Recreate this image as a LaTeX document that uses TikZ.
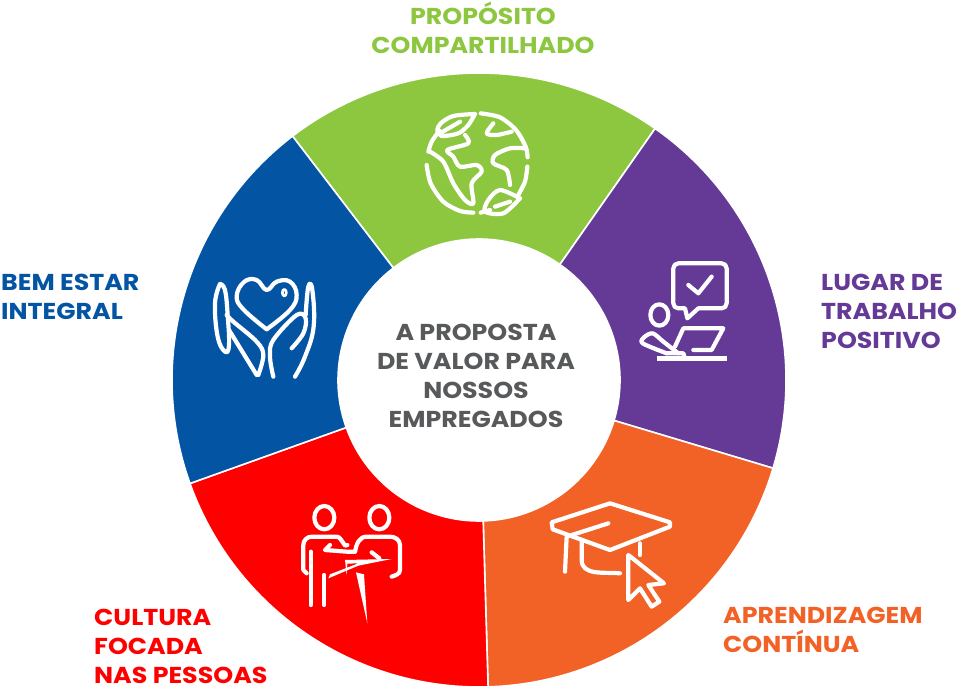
\documentclass[tikz,border=0pt]{standalone}
\usepackage{fontspec}
\setmainfont{Poppins}[FakeStretch=1.1]
\definecolor{greenpart}{HTML}{8DC63F}
\definecolor{purplepart}{HTML}{643A96}
\definecolor{orangepart}{HTML}{F26125}
\definecolor{redpart}{HTML}{FF0000}
\definecolor{bluepart}{HTML}{0454A4}
\definecolor{greytext}{HTML}{58595B}
\tikzset{
  wedge/.style={draw=white, line width=1.6pt},
  icon/.style={draw=white, line width=4.2pt, line cap=round, line join=round},
  label/.style={font=\fontsize{23}{29}\bfseries\selectfont, inner sep=0pt, align=left, anchor=west},
  middle/.style={font=\fontsize{23}{29}\bfseries\selectfont, inner sep=0pt, align=center},
}
\begin{document}
\begin{tikzpicture}[x=1pt,y=-1pt]
\useasboundingbox (0,0) rectangle (960,700);
\begin{scope}[shift={(479,380)}]
\filldraw[wedge, fill=greenpart] (55:307pt) arc[start angle=55, end angle=127.4, radius=307pt] -- (127.4:141pt) arc[start angle=127.4, end angle=55, radius=141pt] -- cycle;
\filldraw[wedge, fill=purplepart] (-16.7:307pt) arc[start angle=-16.7, end angle=55, radius=307pt] -- (55:141pt) arc[start angle=55, end angle=-16.7, radius=141pt] -- cycle;
\filldraw[wedge, fill=orangepart] (-88.3:307pt) arc[start angle=-88.3, end angle=-16.7, radius=307pt] -- (-16.7:141pt) arc[start angle=-16.7, end angle=-88.3, radius=141pt] -- cycle;
\filldraw[wedge, fill=redpart] (199.7:307pt) arc[start angle=199.7, end angle=271.7, radius=307pt] -- (271.7:141pt) arc[start angle=271.7, end angle=199.7, radius=141pt] -- cycle;
\filldraw[wedge, fill=bluepart] (127.4:307pt) arc[start angle=127.4, end angle=199.7, radius=307pt] -- (199.7:141pt) arc[start angle=199.7, end angle=127.4, radius=141pt] -- cycle;
\end{scope}
% globe
\begin{scope}[shift={(410,100)},scale=0.3333]
\draw[icon] plot[smooth] coordinates {(212,40) (270,52) (318,90) (347,140) (353,172)};
\draw[icon] plot[smooth] coordinates {(352,200) (345,245) (322,290)};
\draw[icon] plot[smooth] coordinates {(50,195) (62,250) (100,305) (150,333) (190,338)};
\draw[icon] plot[smooth] coordinates {(55,155) (65,125) (88,92)};
\draw[icon] plot[smooth] coordinates {(195,42) (130,48) (92,70) (82,92) (95,108) (145,100) (175,75) (195,42)};
\draw[icon] (150,65) -- (90,100);
\draw[icon] plot[smooth] coordinates {(60,155) (100,185) (130,250) (165,300) (190,310) (185,250) (215,215) (200,195) (150,200) (130,170) (112,150) (175,130) (165,105)};
\draw[icon] plot[smooth] coordinates {(250,70) (230,100) (260,105) (305,95)};
\draw[icon] plot[smooth] coordinates {(345,145) (300,145) (255,165) (250,190) (290,210) (300,255)};
\draw[icon] plot[smooth] coordinates {(330,295) (270,270) (235,300) (225,335) (280,340) (330,295)};
\draw[icon] (255,320) -- (300,305);
\draw[icon] (212,338) -- (240,330);
\end{scope}
% worker with laptop
\begin{scope}[shift={(630,250)},scale=0.3333]
\draw[icon] (145,40) -- (275,40) to[out=0,in=90] (290,55) -- (290,160) to[out=-90,in=0] (275,175) -- (205,175) -- (172,205) -- (165,175) -- (145,175) to[out=180,in=-90] (130,160) -- (130,55) to[out=90,in=180] (145,40) -- cycle;
\draw[icon] (175,105) -- (205,130) -- (245,80);
\draw[icon] (88,195) ellipse[x radius=27, y radius=32];
\draw[icon] plot[smooth, tension=0.5] coordinates {(145,310) (100,275) (68,250) (42,262) (38,280) (110,310)};
\draw[icon] (110,310) -- (160,310) -- (165,325);
\draw[icon] (135,290) -- (160,235) -- (280,235) -- (245,300) -- (190,300);
\draw[icon, line width=4.6pt, line cap=butt] (80,325) -- (290,325);
\end{scope}
% graduation cap
\begin{scope}[shift={(540,490)},scale=0.3333]
\draw[icon] (35,97) -- (210,40) -- (390,97) -- (390,110) -- (210,180) -- (38,118) -- cycle;
\draw[icon] (205,100) -- (80,140) -- (75,245);
\draw[icon] (125,155) -- (125,210) to[out=-90,in=175] (240,250);
\draw[icon] (300,160) -- (300,195);
\draw[icon] (265,195) -- (265,330) -- (300,295) -- (335,350) -- (358,335) -- (325,285) -- (372,280) -- cycle;
\end{scope}
% two people
\begin{scope}[shift={(290,495)},scale=0.3333]
\draw[icon] (103,68) ellipse[x radius=30, y radius=35];
\draw[icon] (268,68) ellipse[x radius=30, y radius=35];
\draw[icon] (172,150) to[out=-120,in=0] (140,125) -- (65,125) to[out=180,in=90] (40,150) -- (40,225) -- (50,235);
\draw[icon] (62,170) -- (62,330);
\draw[icon] (103,240) -- (103,330);
\draw[icon] (120,150) -- (105,165) -- (170,170) -- (195,170);
\draw[icon] (195,170) to[out=80,in=180] (230,125) -- (300,125) to[out=0,in=90] (330,150) -- (330,225) to[out=-90,in=20] (305,245);
\draw[icon] (245,172) -- (268,190);
\fill[white] (165,195) -- (305,192) -- (205,212) -- (115,250) -- (120,238) -- (205,205) -- (172,206) -- (170,240) -- cycle;
\fill[white] (198,232) -- (222,238) -- (232,385) -- cycle;
\end{scope}
% hands and heart
\begin{scope}[shift={(205,270)},scale=0.3333]
\draw[icon] plot[smooth, tension=0.7] coordinates {(185,178) (115,118) (95,78) (118,35) (155,30) (185,60) (215,35) (255,35) (275,75) (255,120) (185,178)};
\draw[icon, line width=2.6pt] (238,68) ellipse[x radius=6, y radius=10];
\draw[icon] plot[smooth, tension=0.7] coordinates {(45,42) (30,100) (38,200) (60,245) (72,225) (68,135) (60,60) (45,42)};
\draw[icon] plot[smooth, tension=0.6] coordinates {(65,135) (85,155) (155,215) (175,255) (160,315)};
\draw[icon] (72,180) -- (155,315);
\draw[icon] plot[smooth, tension=0.6] coordinates {(260,235) (295,190) (302,145) (275,135) (205,210) (195,260) (205,320)};
\draw[icon] plot[smooth, tension=0.7] coordinates {(302,135) (310,50) (322,60) (326,170) (300,260) (270,320)};
\end{scope}
\node[middle, text=greenpart] (proposito) at (483,28) {PROPÓSITO\\COMPARTILHADO};
\node[label, text=purplepart] (lugar) at (821,311) {LUGAR DE\\TRABALHO\\POSITIVO};
\node[label, text=orangepart] (aprender) at (723,630) {APRENDIZAGEM\\CONTÍNUA};
\node[label, text=redpart] (cultura) at (94,646) {CULTURA\\FOCADA\\NAS PESSOAS};
\node[label, text=bluepart] (bem) at (1,297) {BEM ESTAR\\INTEGRAL};
\node[middle, text=greytext] (centro) at (476,376) {A PROPOSTA\\DE VALOR PARA\\NOSSOS\\EMPREGADOS};
\end{tikzpicture}
\end{document}
